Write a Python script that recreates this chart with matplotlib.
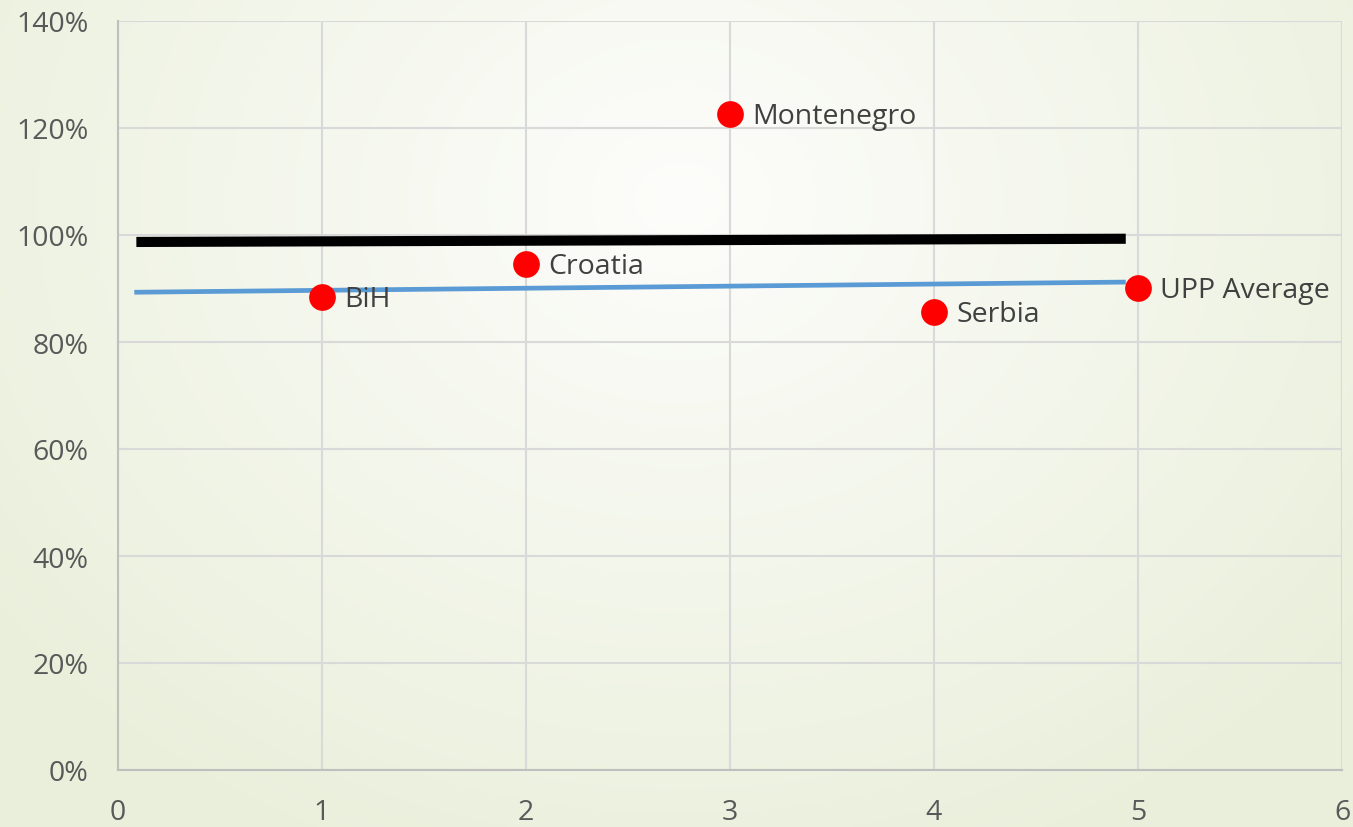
import matplotlib
matplotlib.use("Agg")
import matplotlib.pyplot as plt
import numpy as np
from matplotlib.ticker import PercentFormatter

plt.rcParams['font.family'] = ['Open Sans', 'DejaVu Sans']

# country scores (share of reference level)
countries = ["BiH", "Croatia", "Montenegro", "Serbia", "UPP Average"]
xpos = [1, 2, 3, 4, 5]
scores = [0.884, 0.946, 1.226, 0.856, 0.901]

# reference lines (start / end)
black_x = [0.09, 4.94]
black_y = [0.987, 0.993]
blue_x = [0.08, 4.94]
blue_y = [0.893, 0.912]

W, H = 1353, 828
fig = plt.figure(figsize=(W / 100, H / 100), dpi=100)

# soft radial background
bg = fig.add_axes([0, 0, 1, 1], zorder=-10)
yy, xx = np.mgrid[0:H, 0:W]
r = np.sqrt(((xx - 680) / 900.0) ** 2 + ((yy - 200) / 750.0) ** 2)
r = np.clip(r, 0, 1)
c0 = np.array([253, 253, 251]) / 255.0
c1 = np.array([233, 239, 218]) / 255.0
img = c0[None, None, :] * (1 - r[..., None]) + c1[None, None, :] * r[..., None]
bg.imshow(img, aspect='auto', extent=[0, 1, 0, 1])
bg.axis('off')

ax = fig.add_axes([118 / W, 1 - 771 / H, (1342 - 118) / W, (771 - 22) / H])
ax.set_facecolor('none')

ax.plot(black_x, black_y, color='black', lw=7.3, solid_capstyle='butt', zorder=3)
ax.plot(blue_x, blue_y, color='#5b9bd5', lw=3.4, solid_capstyle='butt', zorder=3)
ax.scatter(xpos, scores, s=370, color='#ff0000', zorder=4, linewidths=0)

for x, y, name in zip(xpos, scores, countries):
    ax.annotate(name, (x, y), xytext=(16, -1.5), textcoords='offset points',
                va='center', ha='left', fontsize=20.5, color='#404040', zorder=5)

ax.set_xlim(0, 6)
ax.set_ylim(0, 1.4)
ax.set_xticks(range(0, 7))
ax.set_yticks(np.arange(0, 1.41, 0.2))
ax.yaxis.set_major_formatter(PercentFormatter(1.0, decimals=0))
ax.grid(True, color='#d9d9d9', lw=1.5)
ax.set_axisbelow(True)
for side in ['top', 'right']:
    ax.spines[side].set_visible(False)
for side in ['left', 'bottom']:
    ax.spines[side].set_color('#bfbfbf')
    ax.spines[side].set_linewidth(1.5)
ax.tick_params(length=0, labelsize=20.5, labelcolor='#595959')
ax.tick_params(axis='y', pad=21)
ax.tick_params(axis='x', pad=20)

fig.savefig('out.png', dpi=100)
